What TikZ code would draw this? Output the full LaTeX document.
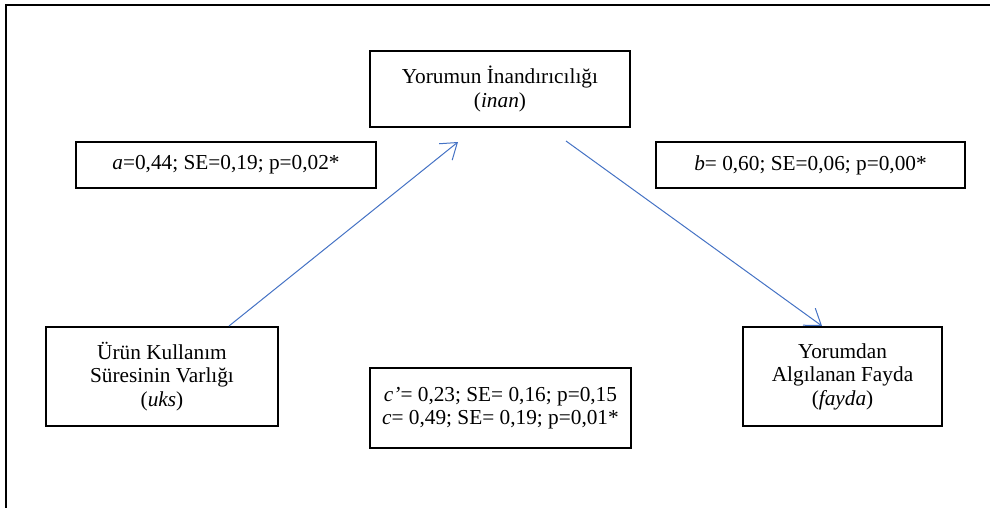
\documentclass[tikz,border=0pt]{standalone}
\usepackage{fontspec}
\setmainfont{Liberation Serif}
\usetikzlibrary{arrows.meta}
\definecolor{arrowblue}{HTML}{4472C4}
\tikzset{
  vbox/.style={draw=black, line width=1.6pt, rectangle, align=center, inner sep=0pt,
    font=\fontsize{21.3}{23.5}\selectfont},
  conn/.style={draw=arrowblue, line width=1pt, -{Straight Barb[length=15pt,width=21pt,line width=1pt]}},
  frameline/.style={draw=black, line width=2pt}
}
\begin{document}
\begin{tikzpicture}[x=1pt,y=-1pt]
\useasboundingbox (0,0) rectangle (990,508);
\draw[frameline] (6,508) -- (6,5) -- (990,5);

\node[vbox, minimum width=260pt, minimum height=76pt] (inan) at (500,89)
  {Yorumun İnandırıcılığı\\(\textit{inan})};
\node[vbox, minimum width=300pt, minimum height=46pt] (pa) at (226,165)
  {\textit{a}=0,44; SE=0,19; p=0,02*};
\node[vbox, minimum width=309pt, minimum height=46pt] (pb) at (810.5,165)
  {\textit{b}= 0,60; SE=0,06; p=0,00*};
\node[vbox, minimum width=232pt, minimum height=99pt] (uks) at (162,376.5)
  {Ürün Kullanım\\Süresinin Varlığı\\(\textit{uks})};
\node[vbox, minimum width=199pt, minimum height=99pt] (fayda) at (842.5,376.5)
  {Yorumdan\\Algılanan Fayda\\(\textit{fayda})};
\node[vbox, minimum width=261pt, minimum height=80pt] (pc) at (500.5,408)
  {\textit{c'}= 0,23; SE= 0,16; p=0,15\\\textit{c}= 0,49; SE= 0,19; p=0,01*};

\coordinate (s1) at (229,326);
\coordinate (e1) at (458,142);
\coordinate (s2) at (566,141);
\coordinate (e2) at (822,326);
\draw[conn] (s1) -- (e1);
\draw[conn] (s2) -- (e2);
\end{tikzpicture}
\end{document}
